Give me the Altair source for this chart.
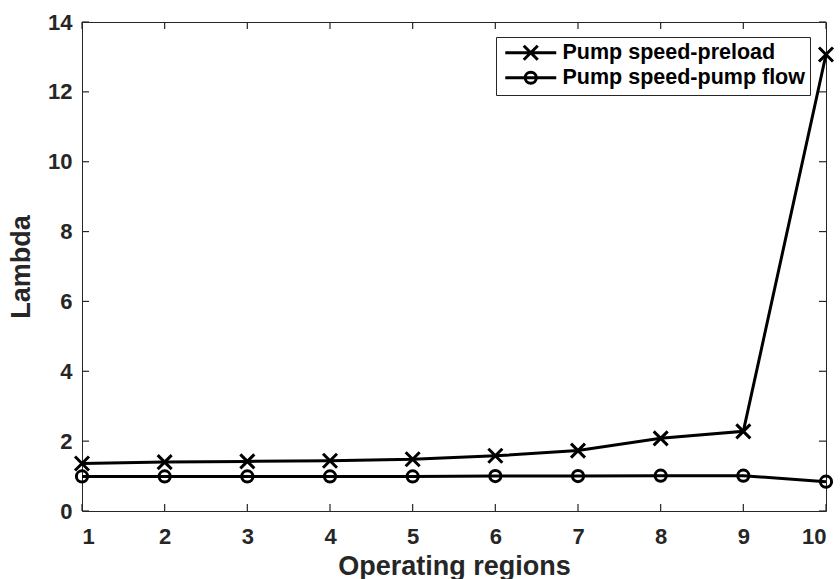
import altair as alt
import pandas as pd

regions = [1, 2, 3, 4, 5, 6, 7, 8, 9, 10]
preload = [1.36, 1.40, 1.42, 1.44, 1.48, 1.58, 1.73, 2.08, 2.28, 13.07]
pump_flow = [0.99, 0.99, 0.99, 0.99, 0.99, 1.00, 1.00, 1.01, 1.01, 0.84]
series_names = ["Pump speed-preload", "Pump speed-pump flow"]
x_ticks = [1, 2, 3, 4, 5, 6, 7, 8, 9, 10]
y_ticks = [0, 2, 4, 6, 8, 10, 12, 14]

rows = []
for r, v in zip(regions, preload):
    rows.append({"region": r, "lambda": v, "series": series_names[0]})
for r, v in zip(regions, pump_flow):
    rows.append({"region": r, "lambda": v, "series": series_names[1]})
df = pd.DataFrame(rows)
xt = pd.DataFrame({"region": x_ticks})
yt = pd.DataFrame({"lambda": y_ticks})

FONT = "Liberation Sans"
INK = "#262626"
W, H, TICK = 744, 489, 7
X_PATH = "M-1,-1L1,1M-1,1L1,-1"
O_PATH = "M0.8,0A0.8,0.8 0 1,1 -0.8,0A0.8,0.8 0 1,1 0.8,0Z"
X_LEG = "M-3.64,0L3.64,0M-1,-1L1,1M-1,1L1,-1"
O_LEG = "M-3.64,0L3.64,0M0.8,0A0.8,0.8 0 1,1 -0.8,0A0.8,0.8 0 1,1 0.8,0Z"

xscale = alt.Scale(domain=[1, 10], nice=False, zero=False)
yscale = alt.Scale(domain=[0, 14], nice=False, zero=False)

x_axis = alt.Axis(
    orient="bottom", values=x_ticks, format="d", title="Operating regions",
    ticks=False, grid=False, domain=False,
    labelFont=FONT, labelFontSize=22, labelFontWeight="bold", labelColor=INK,
    labelPadding=15, titleFont=FONT, titleFontSize=27, titleFontWeight="bold",
    titleColor=INK, titlePadding=6,
)
y_axis = alt.Axis(
    orient="left", values=y_ticks, format="d", title="Lambda",
    ticks=False, grid=False, domain=False,
    labelFont=FONT, labelFontSize=22, labelFontWeight="bold", labelColor=INK,
    labelPadding=10, titleFont=FONT, titleFontSize=27, titleFontWeight="bold",
    titleColor=INK, titlePadding=12,
)

X = alt.X("region:Q", scale=xscale, axis=x_axis, title="Operating regions")
Y = alt.Y("lambda:Q", scale=yscale, axis=y_axis, title="Lambda")

lines = alt.Chart(df).mark_line(strokeWidth=3, color="black", clip=False).encode(
    x=X, y=Y, detail="series:N",
)

points = alt.Chart(df).mark_point(
    filled=False, color="black", strokeWidth=3, size=196, opacity=1, clip=False
).encode(
    x=X, y=Y,
    shape=alt.Shape("series:N", scale=alt.Scale(domain=series_names, range=[X_PATH, O_PATH]), legend=None),
)

rule_style = dict(color=INK, strokeWidth=1.2)
tick_bottom = alt.Chart(xt).mark_rule(**rule_style).encode(x=X, y=alt.value(H), y2=alt.value(H - TICK))
tick_top = alt.Chart(xt).mark_rule(**rule_style).encode(x=X, y=alt.value(0), y2=alt.value(TICK))
tick_left = alt.Chart(yt).mark_rule(**rule_style).encode(y=Y, x=alt.value(0), x2=alt.value(TICK))
tick_right = alt.Chart(yt).mark_rule(**rule_style).encode(y=Y, x=alt.value(W), x2=alt.value(W - TICK))

legend_layer = alt.Chart(df).mark_point(
    filled=False, color="black", strokeWidth=3, size=196, opacity=0
).encode(
    x=X, y=Y,
    shape=alt.Shape(
        "series:N",
        scale=alt.Scale(domain=series_names, range=[X_LEG, O_LEG]),
        legend=alt.Legend(
            title=None, orient="none", legendX=414, legendY=15,
            strokeColor=INK, fillColor="white", padding=5,
            symbolSize=196, symbolStrokeWidth=3, symbolStrokeColor="black",
            symbolFillColor="transparent", symbolOpacity=1,
            symbolOffset=19, labelOffset=21,
            labelFont=FONT, labelFontSize=21.5, labelFontWeight="bold",
            labelColor="black", labelLimit=400, rowPadding=0,
        ),
    ),
)

chart = alt.layer(
    tick_bottom, tick_top, tick_left, tick_right, lines, points, legend_layer
).resolve_scale(
    shape="independent"
).properties(
    width=W, height=H,
    padding={"left": 82, "top": 22, "right": 14, "bottom": 68},
    autosize=alt.AutoSizeParams(type="none"),
).configure_view(stroke=INK, strokeWidth=1)

chart.save("out.html", embed_options={"renderer": "svg", "actions": False})
